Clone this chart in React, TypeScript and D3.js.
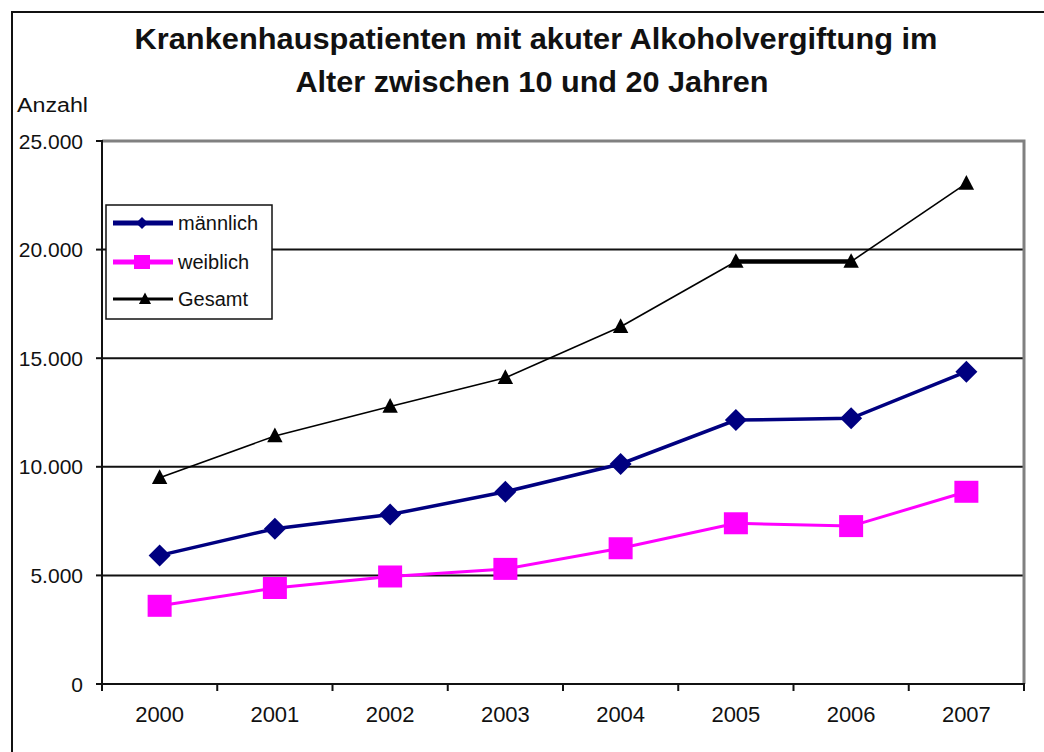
import React from "react";
import * as d3 from "d3";

const years = ["2000", "2001", "2002", "2003", "2004", "2005", "2006", "2007"];
const maennlich = [5920, 7150, 7800, 8850, 10130, 12150, 12230, 14380];
const weiblich = [3600, 4420, 4950, 5300, 6250, 7400, 7270, 8850];
const gesamt = [9500, 11420, 12780, 14100, 16450, 19450, 19450, 23050];
const yTicks = [0, 5000, 10000, 15000, 20000, 25000];
const titleLines = ["Krankenhauspatienten mit akuter Alkoholvergiftung im", "Alter zwischen 10 und 20 Jahren"];
const legendLabels = ["männlich", "weiblich", "Gesamt"];

const W = 1044, H = 752;
const L = 102, R = 1024, T = 141, B = 684;
const FONT = "'Liberation Sans', Arial, sans-serif";

const fmt = (v: number) => (v === 0 ? "0" : d3.format(",")(v).replace(/,/g, "."));

export default function App() {
  const x = d3.scaleBand().domain(years).range([L, R]).padding(0);
  const y = d3.scaleLinear().domain([0, 25000]).range([B, T]);
  const cx = (i: number) => (x(years[i]) as number) + x.bandwidth() / 2;
  const line = d3.line<number>().x((_, i) => cx(i)).y((v) => y(v));

  const diamond = (px: number, py: number, s: number) =>
    `M${px},${py - s}L${px + s},${py}L${px},${py + s}L${px - s},${py}Z`;
  const tri = (px: number, py: number, s: number) =>
    `M${px},${py - s * 0.6}L${px + s * 0.55},${py + s * 0.45}L${px - s * 0.55},${py + s * 0.45}Z`;

  return (
    <div style={{ position: "fixed", left: 0, top: 0, width: W, height: H, background: "#fff" }}>
      <svg width={W} height={H} style={{ display: "block" }} fontFamily={FONT}>
        <rect x={0} y={0} width={W} height={H} fill="#fff" />
        {/* outer frame */}
        <path d={`M12,${H + 5}V12H${W + 5}`} fill="none" stroke="#111" strokeWidth={2} />
        {/* title */}
        <text x={536} y={49} textAnchor="middle" fontSize={30} fontWeight="bold" fill="#111"
          textLength={803} lengthAdjust="spacingAndGlyphs">{titleLines[0]}</text>
        <text x={532} y={92} textAnchor="middle" fontSize={30} fontWeight="bold" fill="#111"
          textLength={473} lengthAdjust="spacingAndGlyphs">{titleLines[1]}</text>
        <text x={17} y={112} fontSize={20} fill="#111" textLength={71} lengthAdjust="spacingAndGlyphs">Anzahl</text>

        {/* grid lines */}
        {yTicks.filter((t) => t > 0 && t < 25000).map((t) => (
          <line key={t} x1={L} x2={R} y1={y(t)} y2={y(t)} stroke="#111" strokeWidth={2} />
        ))}
        {/* plot border top/right gray */}
        <path d={`M${L},${T}H${R}V${B}`} fill="none" stroke="#808080" strokeWidth={3} />
        {/* axes */}
        <line x1={L} x2={L} y1={T - 1} y2={B + 1} stroke="#111" strokeWidth={2} />
        <line x1={L - 1} x2={R + 1} y1={B} y2={B} stroke="#111" strokeWidth={2} />
        {yTicks.map((t) => (
          <g key={t}>
            <line x1={L - 6} x2={L} y1={y(t)} y2={y(t)} stroke="#111" strokeWidth={2} />
            <text x={83} y={y(t)} dy="0.36em" textAnchor="end" fontSize={21} fill="#111">{fmt(t)}</text>
          </g>
        ))}
        {years.map((yr, i) => (
          <g key={yr}>
            <line x1={x(yr) as number} x2={x(yr) as number} y1={B} y2={B + 7} stroke="#111" strokeWidth={2} />
            <text x={cx(i)} y={722} textAnchor="middle" fontSize={22} fill="#111">{yr}</text>
          </g>
        ))}
        <line x1={R} x2={R} y1={B} y2={B + 7} stroke="#111" strokeWidth={2} />

        {/* Gesamt */}
        {gesamt.slice(0, -1).map((v, i) => (
          <line key={i} x1={cx(i)} y1={y(v)} x2={cx(i + 1)} y2={y(gesamt[i + 1])}
            stroke="#000" strokeWidth={v === gesamt[i + 1] ? 4.5 : 1.6} />
        ))}
        {gesamt.map((v, i) => (
          <path key={i} d={tri(cx(i), y(v), 14)} fill="#000" />
        ))}
        {/* männlich */}
        <path d={line(maennlich) || ""} fill="none" stroke="#000080" strokeWidth={3.5} />
        {maennlich.map((v, i) => (
          <path key={i} d={diamond(cx(i), y(v), 11)} fill="#000080" />
        ))}
        {/* weiblich */}
        <path d={line(weiblich) || ""} fill="none" stroke="#ff00ff" strokeWidth={3} />
        {weiblich.map((v, i) => (
          <rect key={i} x={cx(i) - 12} y={y(v) - 11} width={24} height={22} fill="#ff00ff" />
        ))}

        {/* legend */}
        <rect x={106} y={205} width={166} height={114} fill="#fff" stroke="#111" strokeWidth={1.5} />
        {legendLabels.map((lab, i) => {
          const ly = [223, 262, 299][i];
          return (
            <g key={lab}>
              {i === 0 && (
                <>
                  <line x1={113} x2={173} y1={ly} y2={ly} stroke="#000080" strokeWidth={5} />
                  <path d={diamond(142, ly, 6)} fill="#000080" />
                </>
              )}
              {i === 1 && (
                <>
                  <line x1={113} x2={173} y1={ly} y2={ly} stroke="#ff00ff" strokeWidth={5} />
                  <rect x={134} y={ly - 7} width={16} height={14} fill="#ff00ff" />
                </>
              )}
              {i === 2 && (
                <>
                  <line x1={113} x2={173} y1={ly} y2={ly} stroke="#000" strokeWidth={3} />
                  <path d={tri(145, ly, 11)} fill="#000" />
                </>
              )}
              <text x={178} y={ly} dy="0.36em" fontSize={20} fill="#111">{lab}</text>
            </g>
          );
        })}
      </svg>
    </div>
  );
}
